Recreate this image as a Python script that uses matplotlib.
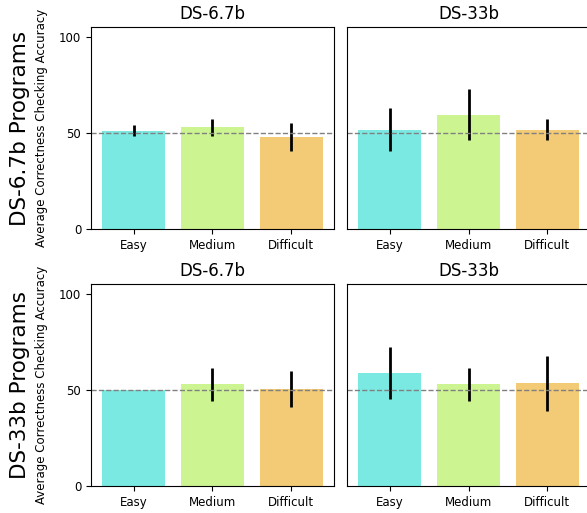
import numpy as np
import matplotlib
matplotlib.use("Agg")
import matplotlib.pyplot as plt

levels = ["Easy", "Medium", "Difficult"]
models = ["DS-6.7b", "DS-33b"]
row_labels = ["DS-6.7b Programs", "DS-33b Programs"]

# rows: program source, cols: checking model
means = [
    [[51.2, 52.8, 47.8], [51.7, 59.5, 51.7]],
    [[49.7, 52.8, 50.5], [58.6, 52.8, 53.3]],
]
errs = [
    [[2.8, 4.2, 7.2], [11.2, 13.3, 5.5]],
    [[0.0, 8.4, 9.2], [13.4, 8.4, 14.5]],
]
colors = ["#7ae9e2", "#ccf591", "#f3ca75"]

fig = plt.figure(figsize=(5.87, 5.13), dpi=100)
W, H = 587, 513
x = np.arange(len(levels))

lefts = [91, 347]
tops = [27, 284]
aw, ah = 243, 202

for r in range(2):
    for c in range(2):
        ax = fig.add_axes([lefts[c] / W, (H - tops[r] - ah) / H, aw / W, ah / H])
        ax.bar(x, means[r][c], width=0.8, color=colors)
        ax.errorbar(x, means[r][c], yerr=errs[r][c], fmt="none", ecolor="black", elinewidth=2, capsize=0)
        ax.axhline(50, color="gray", linestyle="--", linewidth=1)
        ax.set_ylim(0, 105)
        ax.set_xticks(x)
        ax.set_xticklabels(levels, fontsize=8.5)
        ax.set_title(models[c], fontsize=12)
        if c == 0:
            ax.set_yticks([0, 50, 100])
            ax.tick_params(axis="y", labelsize=8.5)
            ax.set_ylabel("Average Correctness Checking Accuracy", fontsize=8.5)
            ax.yaxis.set_label_coords(-0.177, 0.5)
        else:
            ax.set_yticks([])
    fig.text(20 / W, (H - tops[r] - ah / 2) / H, row_labels[r], rotation=90,
             fontsize=15.5, ha="center", va="center")

fig.savefig("out.png", dpi=100)
